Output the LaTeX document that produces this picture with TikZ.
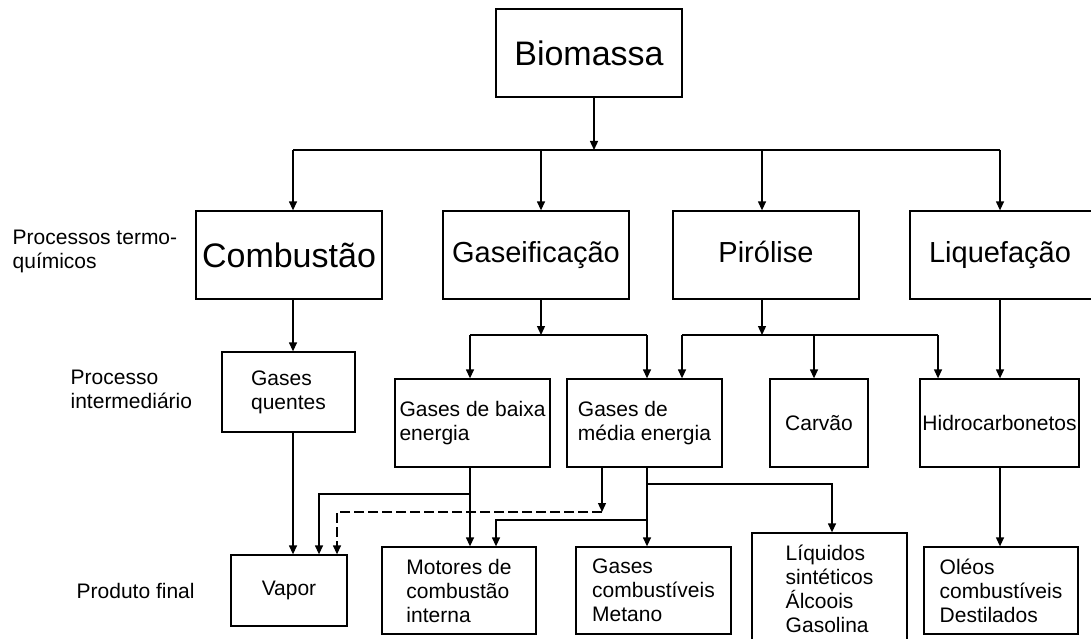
\documentclass[tikz,border=0pt]{standalone}
\usepackage{fontspec}
\setmainfont{Liberation Sans}
\usetikzlibrary{arrows.meta}
\begin{document}
\begin{tikzpicture}[x=1pt,y=-1pt,
  line width=1.3pt,
  box/.style={draw, line width=1.3pt, inner sep=0pt},
  big/.style={box, minimum width=186pt, minimum height=88pt, font=\fontsize{34}{40}\selectfont},
  proc/.style={box, minimum width=186pt, minimum height=88pt, font=\fontsize{29}{34}\selectfont,
               text height=21.75pt, text depth=7.25pt},
  small/.style={box, align=left, font=\fontsize{21}{24}\selectfont},
  lab/.style={align=left, inner sep=0pt, font=\fontsize{21}{23.5}\selectfont},
  arr/.style={-{Triangle[length=9pt,width=8pt]}},
  dashline/.style={dash pattern=on 10pt off 4pt}
]
\useasboundingbox (0,0) rectangle (1091,639);
\fill[white] (0,0) rectangle (1091,639);
\clip (0,0) rectangle (1091,639);

% side labels (anchored on the baseline of their last line)
\node[lab, anchor=base west] (lTermo) at (12,268) {Processos termo-\\químicos};
\node[lab, anchor=base west] (lInter) at (70,408) {Processo\\intermediário};
\node[lab, anchor=base west] (lFinal) at (76,598) {Produto final};

% source
\node[big] (bio) at (589,53) {Biomassa};

% thermochemical processes
\node[big]  (comb) at (289,255) {Combustão};
\node[proc] (gas)  at (536,255) {Gaseificação};
\node[proc] (pir)  at (766,255) {Pirólise};
\node[proc] (liq)  at (1003,255) {\hspace*{-6pt}Liquefação};

% intermediate products
\node[small, minimum width=133pt, minimum height=80pt] (gq)    at (288.5,392) {Gases\\quentes};
\node[small, minimum width=155pt, minimum height=88pt] (baixa) at (472.5,423) {Gases de baixa\\energia};
\node[small, minimum width=155pt, minimum height=88pt] (media) at (644.5,423) {Gases de\\média energia};
\node[small, minimum width=98pt,  minimum height=88pt] (carv)  at (819,423)   {Carvão};
\node[small, minimum width=159pt, minimum height=88pt] (hidro) at (999.5,423) {Hidrocarbonetos};

% final products
\node[small, minimum width=116pt, minimum height=71pt]  (vapor) at (289,590.5)   {Vapor};
\node[small, minimum width=154pt, minimum height=87pt]  (mot)   at (459,590.5)   {Motores de\\combustão\\interna};
\node[small, minimum width=155pt, minimum height=87pt]  (gcomb) at (653.5,590.5) {Gases\\combustíveis\\Metano};
\node[small, minimum width=155pt, minimum height=112pt] (liqs)  at (829.5,589)   {Líquidos\\sintéticos\\Álcoois\\Gasolina};
\node[small, minimum width=154pt, minimum height=87pt]  (oleos) at (1001,590.5)  {Oléos\\combustíveis\\Destilados};

% junction points
\coordinate (bBio)  at (594,150);
\coordinate (bComb) at (293,150);
\coordinate (bGas)  at (541,150);
\coordinate (bPir)  at (762,150);
\coordinate (bLiq)  at (1000,150);
\coordinate (gJ)    at (541,335);
\coordinate (gL)    at (470,335);
\coordinate (gR)    at (647,335);
\coordinate (pJ)    at (762,335);
\coordinate (pL)    at (682,335);
\coordinate (pM)    at (814,335);
\coordinate (pR)    at (938,335);
\coordinate (lowA)  at (470,494);
\coordinate (lowV)  at (319,494);
\coordinate (medA)  at (647,484);
\coordinate (medL)  at (832,484);
\coordinate (medB)  at (647,520);
\coordinate (medM)  at (496,520);
\coordinate (dTop)  at (602,467);
\coordinate (dEnd)  at (602,512);
\coordinate (dV)    at (337,512);

% biomass to processes
\draw[arr] (bio.south -| bBio) -- (bBio);
\draw (bComb) -- (bLiq);
\draw[arr] (bComb) -- (bComb |- comb.north);
\draw[arr] (bGas)  -- (bGas |- gas.north);
\draw[arr] (bPir)  -- (bPir |- pir.north);
\draw[arr] (bLiq)  -- (bLiq |- liq.north);

% processes to intermediates
\draw[arr] (comb.south -| bComb) -- (bComb |- gq.north);
\draw[arr] (gas.south -| gJ) -- (gJ);
\draw (gL) -- (gR);
\draw[arr] (gL) -- (gL |- baixa.north);
\draw[arr] (gR) -- (gR |- media.north);
\draw[arr] (pir.south -| pJ) -- (pJ);
\draw (pL) -- (pR);
\draw[arr] (pL) -- (pL |- media.north);
\draw[arr] (pM) -- (pM |- carv.north);
\draw[arr] (pR) -- (pR |- hidro.north);
\draw[arr] (liq.south -| bLiq) -- (bLiq |- hidro.north);

% intermediates to final products
\draw[arr] (gq.south -| bComb) -- (bComb |- vapor.north);
\draw[arr] (baixa.south -| lowA) -- (lowA |- mot.north);
\draw[arr] (lowA) -- (lowV) -- (lowV |- vapor.north);
\draw[arr] (media.south -| medA) -- (medA |- gcomb.north);
\draw[arr] (medA) -- (medL) -- (medL |- liqs.north);
\draw[arr] (medB) -- (medM) -- (medM |- mot.north);
\draw[arr] (dTop) -- (dTop |- dEnd);
\draw[arr, dashline] (dEnd) -- (dV) -- (dV |- vapor.north);
\draw[arr] (hidro.south -| bLiq) -- (bLiq |- oleos.north);
\end{tikzpicture}
\end{document}
